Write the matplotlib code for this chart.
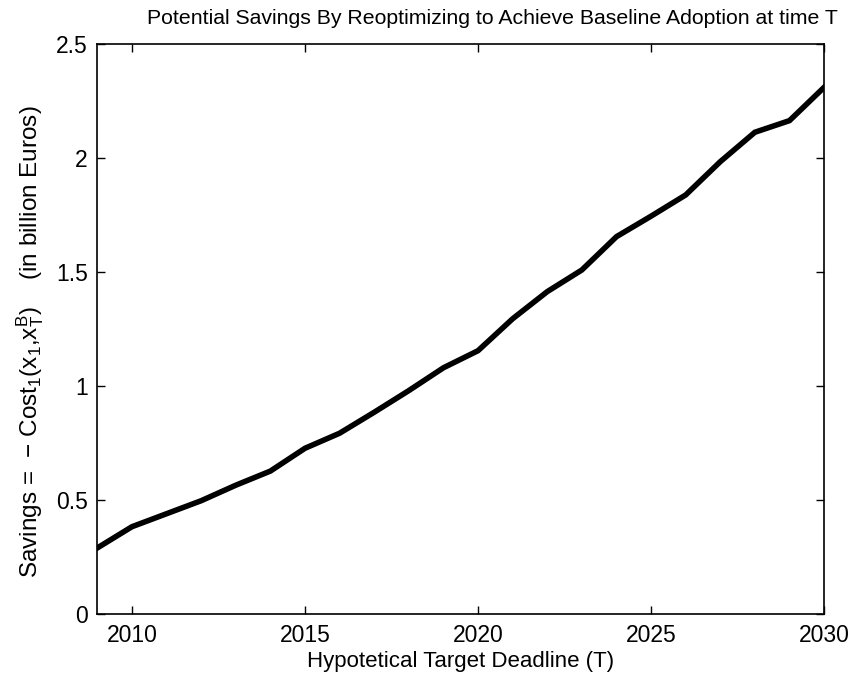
import numpy as np
import matplotlib
matplotlib.use("Agg")
import matplotlib.pyplot as plt

# savings from re-optimizing for each hypothetical target year T
years = np.arange(2009, 2031)
savings = [0.29, 0.383, 0.44, 0.497, 0.565, 0.627, 0.727, 0.793, 0.885, 0.98,
           1.08, 1.155, 1.295, 1.414, 1.509, 1.655, 1.745, 1.838, 1.984, 2.113,
           2.164, 2.31]

x_ticks = [2010, 2015, 2020, 2025, 2030]
y_ticks = [0, 0.5, 1, 1.5, 2, 2.5]

plt.rcParams["font.family"] = ["Liberation Sans", "DejaVu Sans"]
plt.rcParams["mathtext.fontset"] = "custom"
plt.rcParams["mathtext.rm"] = "Liberation Sans"
plt.rcParams["mathtext.it"] = "Liberation Sans"
plt.rcParams["mathtext.bf"] = "Liberation Sans:bold"

fig = plt.figure(figsize=(8.54, 6.77), dpi=100)
ax = fig.add_axes([0.114, 0.093, 0.851, 0.842])

ax.plot(years, savings, color="black", linewidth=4.0, solid_joinstyle="miter")

ax.set_xlim(2009, 2030)
ax.set_ylim(0, 2.5)
ax.set_xticks(x_ticks)
ax.set_yticks(y_ticks)
ax.set_yticklabels(["0", "0.5", "1", "1.5", "2", "2.5"])
ax.tick_params(direction="in", length=6, width=1, top=True, right=True,
               labelsize=16.5, pad=7)
for s in ax.spines.values():
    s.set_linewidth(1.2)

ax.set_xlabel("Hypotetical Target Deadline (T)", fontsize=16, labelpad=3)
ax.set_ylabel(r"Savings =  $-$ Cost$_{1}$(x$_{1}$,x$_{\mathrm{T}}^{\mathrm{B}}$)    (in billion Euros)",
              fontsize=17.5)
ax.yaxis.set_label_coords(-0.071, 0.477)
fig.text(0.577, 0.965, "Potential Savings By Reoptimizing to Achieve Baseline Adoption at time T",
         ha="center", va="baseline", fontsize=15.3)

fig.savefig("out.png", dpi=100)
plt.close(fig)
